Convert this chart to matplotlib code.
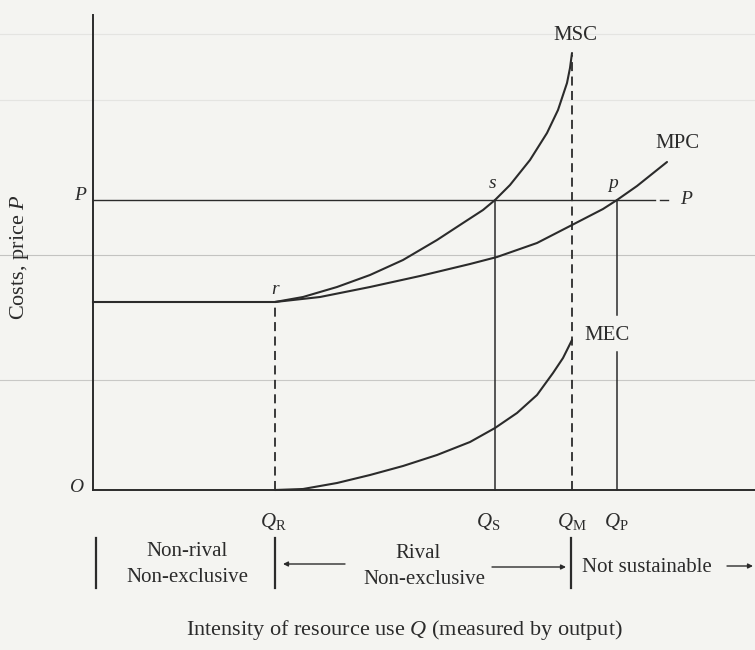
import matplotlib
matplotlib.use("Agg")
import matplotlib.pyplot as plt

plt.rcParams['font.family'] = ['Liberation Serif', 'DejaVu Serif']
plt.rcParams['mathtext.fontset'] = 'custom'
plt.rcParams['mathtext.rm'] = 'Liberation Serif'
plt.rcParams['mathtext.it'] = 'Liberation Serif:italic'

# ---- data (Q = resource use, cost units) ----
Q_R, Q_S, Q_M, Q_P = 3.64, 8.04, 9.58, 10.48
P_level = 5.80
r_cost = 3.76

mpc_q = [3.64, 4.54, 5.54, 6.54, 7.54, 8.08, 8.88, 9.58, 10.20, 10.48, 10.88, 11.48]
mpc_c = [3.76, 3.86, 4.06, 4.28, 4.52, 4.66, 4.94, 5.30, 5.62, 5.80, 6.08, 6.56]

msc_q = [3.64, 4.20, 4.88, 5.54, 6.20, 6.88, 7.40, 7.80, 8.04, 8.34, 8.74, 9.08, 9.30, 9.48, 9.54, 9.58]
msc_c = [3.76, 3.86, 4.06, 4.30, 4.60, 5.00, 5.34, 5.60, 5.80, 6.10, 6.60, 7.14, 7.60, 8.14, 8.44, 8.74]

mec_q = [3.64, 4.20, 4.88, 5.54, 6.20, 6.88, 7.54, 8.04, 8.48, 8.88, 9.20, 9.40, 9.58]
mec_c = [0.00, 0.02, 0.14, 0.30, 0.48, 0.70, 0.96, 1.24, 1.54, 1.90, 2.34, 2.64, 3.00]

q_labels = [r'$Q_{\mathrm{R}}$', r'$Q_{\mathrm{S}}$', r'$Q_{\mathrm{M}}$', r'$Q_{\mathrm{P}}$']
q_label_pos = [3.60, 7.90, 9.58, 10.46]

bg = (0.955, 0.955, 0.945)
ink = (0.17, 0.17, 0.17)

fig = plt.figure(figsize=(7.55, 6.5), dpi=100, facecolor=bg)
ax = fig.add_axes([0, 0, 1, 1])
ax.set_facecolor(bg)
ax.set_xlim(-1.86, 13.24)
ax.set_ylim(-3.2, 9.8)
ax.axis('off')

# faint show-through lines of the scanned page
for yy, a in [(4.70, 0.38), (2.20, 0.34), (9.12, 0.12), (7.80, 0.12)]:
    ax.axhline(yy, color=(0.45, 0.45, 0.45), lw=0.8, alpha=a, zorder=0)

# axes
ax.plot([0, 0], [0, 9.5], color=ink, lw=1.4)
ax.plot([0, 13.24], [0, 0], color=ink, lw=1.4)

# price line
ax.plot([0, 11.24], [P_level, P_level], color=ink, lw=1.0)
ax.plot([11.34, 11.5], [P_level, P_level], color=ink, lw=1.0)

# flat section up to r
ax.plot([0, Q_R], [r_cost, r_cost], color=ink, lw=1.5)

# curves
kw = dict(color=ink, lw=1.5, solid_joinstyle='round', solid_capstyle='round')
ax.plot(mpc_q, mpc_c, **kw)
ax.plot(msc_q, msc_c, **kw)
ax.plot(mec_q, mec_c, **kw)

# verticals
ax.plot([Q_R, Q_R], [0, r_cost], color=ink, lw=1.3, dashes=(5, 3))
ax.plot([Q_M, Q_M], [0, 8.7], color=ink, lw=1.3, dashes=(5, 3))
ax.plot([Q_S, Q_S], [0, P_level], color=ink, lw=1.1)
ax.plot([Q_P, Q_P], [3.5, P_level], color=ink, lw=1.1)
ax.plot([Q_P, Q_P], [0, 2.76], color=ink, lw=1.1)

fs = 15
ax.text(9.64, 9.10, 'MSC', fontsize=fs, color=ink, ha='center', va='center')
ax.text(11.68, 6.94, 'MPC', fontsize=fs, color=ink, ha='center', va='center')
ax.text(10.28, 3.08, 'MEC', fontsize=fs, color=ink, ha='center', va='center')
ax.text(8.00, 6.12, 's', fontsize=14, color=ink, ha='center', va='center', style='italic')
ax.text(10.40, 6.12, 'p', fontsize=14, color=ink, ha='center', va='center', style='italic')
ax.text(3.64, 4.02, 'r', fontsize=14, color=ink, ha='center', va='center', style='italic')
ax.text(-0.26, 5.90, 'P', fontsize=14, color=ink, ha='center', va='center', style='italic')
ax.text(11.86, 5.80, 'P', fontsize=14, color=ink, ha='center', va='center', style='italic')
ax.text(-0.34, 0.04, 'O', fontsize=14, color=ink, ha='center', va='center', style='italic')

for lab, xq in zip(q_labels, q_label_pos):
    ax.text(xq, -0.62, lab, fontsize=15, color=ink, ha='center', va='center')

# regime bars
for xb in [0.06, Q_R, 9.56]:
    ax.plot([xb, xb], [-0.96, -1.96], color=ink, lw=1.6)

ax.text(1.88, -1.24, 'Non-rival', fontsize=fs, color=ink, ha='center', va='center')
ax.text(1.88, -1.76, 'Non-exclusive', fontsize=fs, color=ink, ha='center', va='center')
ax.text(6.50, -1.26, 'Rival', fontsize=fs, color=ink, ha='center', va='center')
ax.text(6.62, -1.80, 'Non-exclusive', fontsize=fs, color=ink, ha='center', va='center')
ax.text(9.78, -1.56, 'Not sustainable', fontsize=fs, color=ink, ha='left', va='center')

ap = dict(arrowstyle='-|>', mutation_scale=7, lw=1.0, color=ink, shrinkA=0, shrinkB=0)
ax.annotate('', xy=(3.80, -1.48), xytext=(5.04, -1.48), arrowprops=ap)
ax.annotate('', xy=(9.46, -1.54), xytext=(7.98, -1.54), arrowprops=ap)
ax.annotate('', xy=(13.20, -1.52), xytext=(12.68, -1.52), arrowprops=ap)

ax.text(6.22, -2.80, 'Intensity of resource use $Q$ (measured by output)',
        fontsize=16, color=ink, ha='center', va='center')
ax.text(-1.46, 4.66, 'Costs, price $P$', fontsize=16, color=ink, ha='center',
        va='center', rotation=90)

fig.savefig('out.png', dpi=100, facecolor=bg)
